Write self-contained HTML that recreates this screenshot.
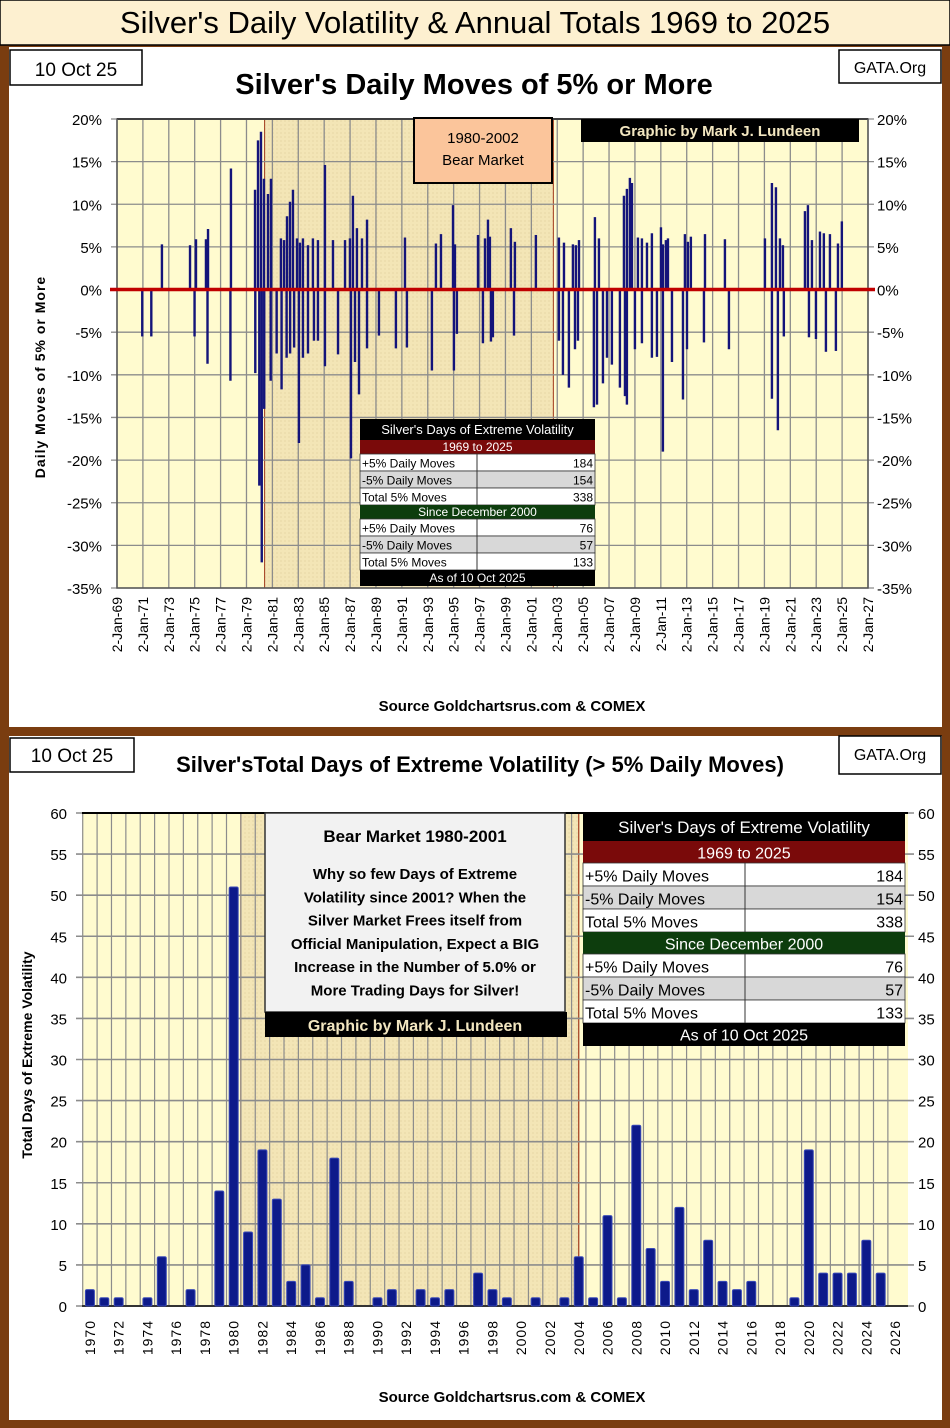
<!DOCTYPE html>
<html><head><meta charset="utf-8"><style>
html,body{margin:0;padding:0;background:#7a3d10;}
svg{display:block;}
text{font-family:"Liberation Sans",sans-serif;}
</style></head><body>
<svg id="root" width="950" height="1428" viewBox="0 0 950 1428" xmlns="http://www.w3.org/2000/svg">
<defs>
<pattern id="dots" width="4" height="4" patternUnits="userSpaceOnUse"><rect width="4" height="4" fill="#f3e5b6"/><circle cx="1" cy="1" r="0.6" fill="#e0cf98"/></pattern>
</defs>
<rect x="0" y="0" width="950" height="1428" fill="#7a3d10"/>
<g>
<rect x="0" y="0" width="950" height="45" fill="#fdf0d0" stroke="#000" stroke-width="1.5"/>
<text x="475" y="33" font-size="31" text-anchor="middle" fill="#000">Silver's Daily Volatility &amp; Annual Totals 1969 to 2025</text>
</g>
<rect x="9" y="47" width="933" height="680" fill="#fff"/>
<rect x="9" y="736" width="933" height="684" fill="#fff"/>
<g id="top"></g>
<g id="bot"></g>
</svg>
<script>
// ---------- top chart data ----------
const moveYears = [1972.47,1974.64,1975.10,1975.87,1976.03,1977.80,1979.66,1979.89,1980.12,1980.35,1980.66,1980.89,1981.66,1981.90,1982.13,1982.36,1982.59,1982.90,1983.13,1983.36,1983.75,1984.13,1984.52,1985.06,1985.68,1986.61,1986.99,1987.22,1987.53,1987.92,1988.31,1991.24,1993.63,1994.02,1994.95,1995.10,1996.88,1997.42,1997.65,1997.80,1999.42,1999.73,2001.35,2003.13,2003.52,2004.21,2004.44,2004.68,2005.91,2006.22,2008.15,2008.38,2008.61,2008.77,2009.23,2009.54,2009.93,2010.31,2011.01,2011.16,2011.39,2011.55,2012.86,2013.09,2013.32,2014.41,2015.95,2019.04,2019.58,2019.89,2020.20,2020.43,2022.13,2022.36,2022.67,2023.29,2023.59,2024.06,2024.68,2024.98,
1970.95,1971.65,1974.99,1975.99,1977.76,1979.68,1979.99,1980.18,1980.37,1980.87,1981.33,1981.71,1982.10,1982.37,1982.68,1983.05,1983.36,1983.75,1984.21,1984.52,1985.06,1986.07,1987.07,1987.38,1987.69,1988.31,1989.23,1990.54,1991.39,1993.32,1995.02,1995.25,1997.26,1997.88,1998.03,1999.66,2003.13,2003.44,2003.90,2004.37,2004.60,2005.83,2006.07,2006.53,2006.84,2007.22,2007.84,2008.23,2008.38,2009.00,2009.54,2010.31,2010.70,2011.16,2011.86,2012.71,2013.02,2014.33,2016.26,2019.58,2020.04,2020.50,2022.44,2022.98,2023.75,2024.52];
const movePcts = [5.3,5.2,5.9,5.9,7.1,14.2,11.7,17.5,18.5,13,11.2,13,6,5.8,8.6,10.3,11.7,6,5.5,6,5.2,6,5.8,14.6,5.8,5.8,6,11,7.2,6,8.2,6.1,5.4,6.5,9.9,5.3,6.4,6,8.2,6.2,7.2,5.6,6.4,6.1,5.5,5.3,5.2,5.8,8.5,6,11,11.8,13.1,12.5,6.1,6,5.5,6.6,7.3,5.3,5.8,6,6.5,5.6,6.2,6.5,5.9,6,12.5,12,6,5.2,9.2,9.9,5.8,6.8,6.6,6.5,5.4,8,
-5.5,-5.5,-5.5,-8.7,-10.7,-9.8,-23,-32,-14,-10.7,-7.5,-11.7,-8,-7.5,-6.8,-18,-8,-7.5,-6,-6,-9,-7.6,-19.8,-8.5,-12.3,-6.9,-5.4,-6.9,-6.8,-9.5,-9.5,-5.2,-6.3,-6.1,-5.6,-5.4,-6,-10,-11.5,-7,-6,-13.8,-13.5,-11,-8,-8.8,-11.5,-12.5,-13.5,-7,-6.3,-8,-7.9,-19,-8.5,-12.9,-7,-6.2,-7,-12.8,-16.5,-5.5,-5.6,-5.8,-7.3,-7.2];
const topYTicks = [20,15,10,5,0,-5,-10,-15,-20,-25,-30,-35];
const topXTickYears = [69,71,73,75,77,79,81,83,85,87,89,91,93,95,97,99,1,3,5,7,9,11,13,15,17,19,21,23,25,27];
// ---------- bottom chart data ----------
const barYears = [1970,1971,1972,1973,1974,1975,1976,1977,1978,1979,1980,1981,1982,1983,1984,1985,1986,1987,1988,1989,1990,1991,1992,1993,1994,1995,1996,1997,1998,1999,2000,2001,2002,2003,2004,2005,2006,2007,2008,2009,2010,2011,2012,2013,2014,2015,2016,2017,2018,2019,2020,2021,2022,2023,2024,2025];
const barCounts = [2,1,1,0,1,6,0,2,0,14,51,9,19,13,3,5,1,18,3,0,1,2,0,2,1,2,0,4,2,1,0,1,0,1,6,1,11,1,22,7,3,12,2,8,3,2,3,0,0,1,19,4,4,4,8,4];
const botYTicks = [0,5,10,15,20,25,30,35,40,45,50,55,60];
const botXLabels = [1970,1972,1974,1976,1978,1980,1982,1984,1986,1988,1990,1992,1994,1996,1998,2000,2002,2004,2006,2008,2010,2012,2014,2016,2018,2020,2022,2024,2026];
const tableRows1 = [["+5% Daily Moves","184"],["-5% Daily Moves","154"],["Total 5% Moves","338"]];
const tableRows2 = [["+5% Daily Moves","76"],["-5% Daily Moves","57"],["Total 5% Moves","133"]];

const NS="http://www.w3.org/2000/svg";
function mk(parent,tag,attrs,txt){const e=document.createElementNS(NS,tag);for(const k in attrs)e.setAttribute(k,attrs[k]);if(txt!==undefined)e.textContent=txt;parent.appendChild(e);return e;}

// ================= TOP CHART =================
const T=document.getElementById('top');
const tL=117,tR=868,tTop=119,tBot=588,tX0=1969,tX1=2027,tYmax=20,tYmin=-35;
const tx=y=>tL+(y-tX0)/(tX1-tX0)*(tR-tL);
const ty=v=>tTop+(tYmax-v)/(tYmax-tYmin)*(tBot-tTop);

let g=mk(T,'g',{});
mk(g,'rect',{x:10,y:50,width:132,height:35,fill:'#fff',stroke:'#000','stroke-width':1.5});
mk(g,'text',{x:76,y:76,'font-size':19,'text-anchor':'middle'},'10 Oct 25');
g=mk(T,'g',{});
mk(g,'rect',{x:839,y:50,width:102,height:33,fill:'#fff',stroke:'#000','stroke-width':1.5});
mk(g,'text',{x:890,y:73,'font-size':16,'text-anchor':'middle'},'GATA.Org');
let e=mk(T,'text',{x:474,y:94,'font-size':29,'font-weight':'bold','text-anchor':'middle'},"Silver's Daily Moves of 5% or More");


mk(T,'rect',{x:tL,y:tTop,width:tR-tL,height:tBot-tTop,fill:'#fffbcf'});
e=mk(T,'rect',{x:tx(1980.4),y:tTop,width:tx(2002.7)-tx(1980.4),height:tBot-tTop,fill:'url(#dots)',stroke:'#a0381a','stroke-width':1});

const tgrid=mk(T,'g',{stroke:'#8c8c8c','stroke-width':1.3});

for(let y=1969;y<=2027;y+=2) mk(tgrid,'line',{x1:tx(y),x2:tx(y),y1:tTop,y2:tBot});
topYTicks.forEach(v=>{mk(tgrid,'line',{x1:tL-6,x2:tR+6,y1:ty(v),y2:ty(v)});});
mk(T,'line',{x1:tL,x2:tR,y1:tTop,y2:tTop,stroke:'#000','stroke-width':2});
mk(T,'rect',{x:tL,y:tTop,width:tR-tL,height:tBot-tTop,fill:'none',stroke:'#555','stroke-width':1.5});
topYTicks.forEach(v=>{
  let a=mk(T,'text',{x:102,y:ty(v)+6,'font-size':15,'text-anchor':'end'},v+'%');
  
  let b=mk(T,'text',{x:877,y:ty(v)+6,'font-size':15,'text-anchor':'start'},v+'%');
  
});
topXTickYears.forEach((yy,i)=>{
  const full=1969+i*2;const xx=tx(full);
  const lbl='2-Jan-'+String(yy).padStart(2,'0');
  let a=mk(T,'text',{x:0,y:0,'font-size':14,'text-anchor':'end',transform:`translate(${xx+5},597) rotate(-90)`},lbl);
  
});
const spk=mk(T,'g',{stroke:'#14147a','stroke-width':2.4});

moveYears.forEach((yy,i)=>{
  const l=mk(spk,'line',{x1:tx(yy),x2:tx(yy),y1:ty(0),y2:ty(movePcts[i])});
  
  
});
e=mk(T,'line',{x1:110,x2:875,y1:ty(0),y2:ty(0),stroke:'#c00000','stroke-width':3.5});

e=mk(T,'text',{x:0,y:0,'font-size':14,'font-weight':'bold','text-anchor':'middle','letter-spacing':'1',transform:'translate(45,377) rotate(-90)'},'Daily  Moves  of  5%  or  More');

g=mk(T,'g',{});
mk(g,'rect',{x:414,y:118,width:138,height:65,fill:'#fbc59b',stroke:'#000','stroke-width':2});
mk(g,'text',{x:483,y:143,'font-size':15,'text-anchor':'middle'},'1980-2002');
mk(g,'text',{x:483,y:165,'font-size':15,'text-anchor':'middle'},'Bear Market');
g=mk(T,'g',{});
mk(g,'rect',{x:581,y:119,width:278,height:23,fill:'#000'});
mk(g,'text',{x:720,y:136,'font-size':15,'font-weight':'bold','text-anchor':'middle',fill:'#f2e6c0','font-family':'Liberation Serif, serif'},'Graphic by Mark J. Lundeen');
e=mk(T,'text',{x:512,y:711,'font-size':15,'font-weight':'bold','text-anchor':'middle'},'Source Goldchartsrus.com & COMEX');


function table(parent,x,y,w,split,hTitle,hHdr,hRow,fs,name){
  const gg=mk(parent,'g',{});
  let cy=y;
  mk(gg,'rect',{x:x,y:cy,width:w,height:hTitle,fill:'#000'});
  mk(gg,'text',{x:x+w/2,y:cy+hTitle*0.72,'font-size':fs+1,'text-anchor':'middle',fill:'#fff'},"Silver's Days of Extreme Volatility");cy+=hTitle;
  const sec=(label,col,rows)=>{
    mk(gg,'rect',{x:x,y:cy,width:w,height:hHdr,fill:col});
    mk(gg,'text',{x:x+w/2,y:cy+hHdr*0.8,'font-size':fs,'text-anchor':'middle',fill:'#fff'},label);cy+=hHdr;
    rows.forEach((r,i)=>{
      mk(gg,'rect',{x:x,y:cy,width:w,height:hRow,fill:i==1?'#d8d8d8':'#fff',stroke:'#333','stroke-width':0.8});
      mk(gg,'line',{x1:x+split,x2:x+split,y1:cy,y2:cy+hRow,stroke:'#333','stroke-width':1});
      mk(gg,'text',{x:x+2,y:cy+hRow*0.8,'font-size':fs},r[0]);
      mk(gg,'text',{x:x+w-2,y:cy+hRow*0.8,'font-size':fs,'text-anchor':'end'},r[1]);
      cy+=hRow;
    });
  };
  sec('1969 to 2025','#7a0a0a',tableRows1);
  sec('Since December 2000','#0d3d0d',tableRows2);
  mk(gg,'rect',{x:x,y:cy,width:w,height:hTitle-5,fill:'#000'});
  mk(gg,'text',{x:x+w/2,y:cy+(hTitle-5)*0.75,'font-size':fs,'text-anchor':'middle',fill:'#fff'},'As of 10 Oct 2025');
}
table(T,360,419,235,117,21,14,17,12,'top-volatility-table');

// ================= BOTTOM CHART =================
const B=document.getElementById('bot');
const bL=82,bR=908,bTop=813,bBot=1306,bX0=1969.45,bX1=2026.9,bYmax=60;
const bx=y=>bL+(y-bX0)/(bX1-bX0)*(bR-bL);
const by=v=>bBot-v/bYmax*(bBot-bTop);
g=mk(B,'g',{});
mk(g,'rect',{x:10,y:738,width:124,height:34,fill:'#fff',stroke:'#000','stroke-width':1.5});
mk(g,'text',{x:72,y:762,'font-size':19,'text-anchor':'middle'},'10 Oct 25');
g=mk(B,'g',{});
mk(g,'rect',{x:839,y:736,width:102,height:38,fill:'#fff',stroke:'#000','stroke-width':1.5});
mk(g,'text',{x:890,y:760,'font-size':16,'text-anchor':'middle'},'GATA.Org');
e=mk(B,'text',{x:480,y:772,'font-size':22,'font-weight':'bold','text-anchor':'middle'},"Silver'sTotal  Days of Extreme Volatility  (> 5% Daily Moves)");

mk(B,'rect',{x:bL,y:bTop,width:bR-bL,height:bBot-bTop,fill:'#fffbcf'});
e=mk(B,'rect',{x:bx(1980.5),y:bTop,width:bx(2004)-bx(1980.5),height:bBot-bTop,fill:'url(#dots)',stroke:'#a0381a','stroke-width':1.2});

const bgrid=mk(B,'g',{stroke:'#8c8c8c','stroke-width':1.2});

for(let y=1970;y<=2026;y++) mk(bgrid,'line',{x1:bx(y-0.5),x2:bx(y-0.5),y1:bTop,y2:bBot});
botYTicks.forEach(v=>mk(bgrid,'line',{x1:bL-6,x2:bR+6,y1:by(v),y2:by(v),'stroke-width':1.6}));
mk(B,'line',{x1:bL,x2:bR,y1:bTop,y2:bTop,stroke:'#000','stroke-width':2});
mk(B,'line',{x1:bL,x2:bR,y1:bBot,y2:bBot,stroke:'#333','stroke-width':2});
botYTicks.forEach(v=>{
  let a=mk(B,'text',{x:67,y:by(v)+6,'font-size':15,'text-anchor':'end'},String(v));
  
  let b=mk(B,'text',{x:918,y:by(v)+6,'font-size':15},String(v));
  
});
botXLabels.forEach(yr=>{
  let a=mk(B,'text',{x:0,y:0,'font-size':14,'text-anchor':'end','letter-spacing':'1',transform:`translate(${bx(yr)+5},1320) rotate(-90)`},String(yr));
  
});
const bars=mk(B,'g',{});

barYears.forEach((yr,i)=>{
  if(barCounts[i]<=0)return;
  const r=mk(bars,'rect',{x:bx(yr)-4.5,y:by(barCounts[i]),width:9,height:by(0)-by(barCounts[i]),fill:'#0d1a8a',stroke:'#3a4ab8','stroke-width':1,rx:1.5});
  
  
});
e=mk(B,'text',{x:0,y:0,'font-size':14,'font-weight':'bold','text-anchor':'middle',transform:'translate(32,1055) rotate(-90)'},'Total Days of Extreme Volatility');

g=mk(B,'g',{});
mk(g,'rect',{x:265,y:813,width:300,height:199,fill:'#f2f2f2',stroke:'#333','stroke-width':1.5});
mk(g,'text',{x:415,y:842,'font-size':17,'font-weight':'bold','text-anchor':'middle'},'Bear Market 1980-2001');
['Why so few Days of Extreme','Volatility since 2001?   When the','Silver Market Frees itself from','Official Manipulation, Expect a BIG','Increase in the Number of 5.0% or','More Trading Days for Silver!'].forEach((s,i)=>{
  mk(g,'text',{x:415,y:879+i*23.3,'font-size':15,'font-weight':'bold','text-anchor':'middle'},s);
});
mk(g,'rect',{x:265,y:1012,width:302,height:25,fill:'#000'});
mk(g,'text',{x:415,y:1031,'font-size':16,'font-weight':'bold','text-anchor':'middle',fill:'#f2e6c0','font-family':'Liberation Serif, serif'},'Graphic by Mark J. Lundeen');
table(B,583,813,322,162,28,22,23,16,'bottom-volatility-table');
e=mk(B,'text',{x:512,y:1402,'font-size':15,'font-weight':'bold','text-anchor':'middle'},'Source Goldchartsrus.com & COMEX');

</script>
</body></html>
